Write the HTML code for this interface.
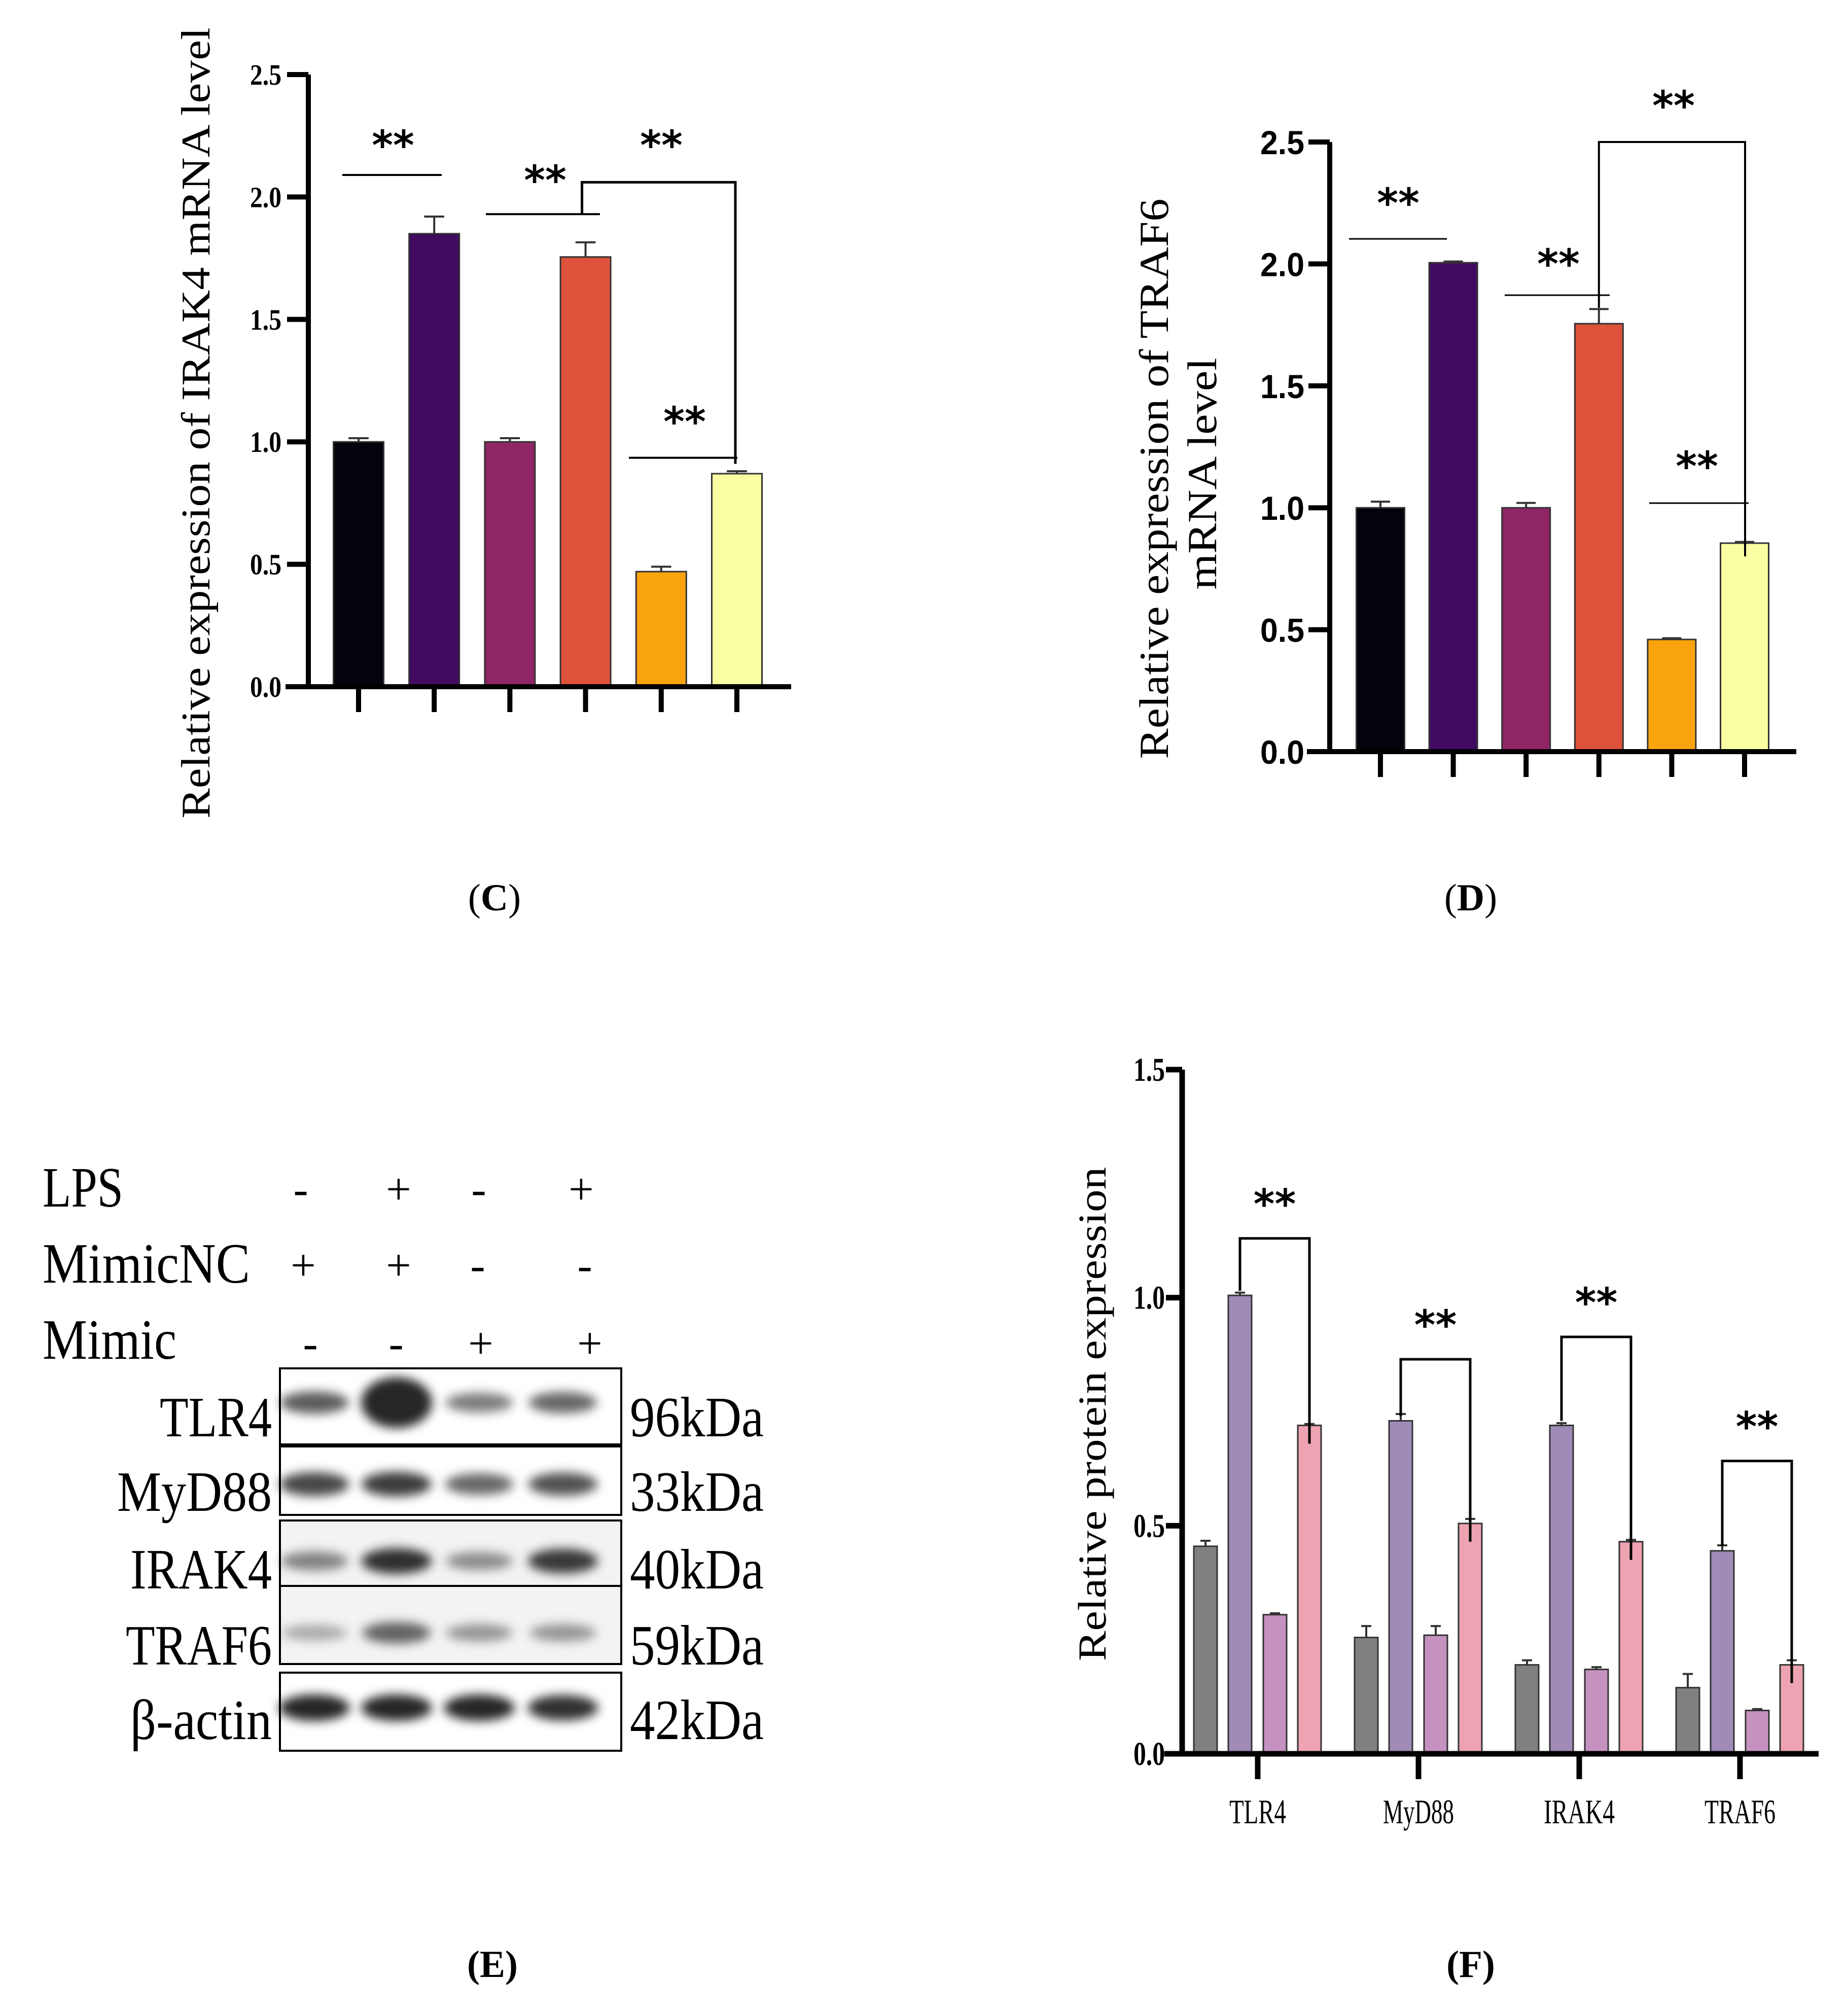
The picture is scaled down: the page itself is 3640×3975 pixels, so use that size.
<!DOCTYPE html>
<html><head><meta charset="utf-8">
<style>
html,body{margin:0;padding:0;background:#fff;}
svg{display:block;}
text{font-family:"Liberation Serif",serif;fill:#000;}
</style></head>
<body>
<svg id="fig" width="3640" height="3975" viewBox="0 0 3640 3975" xmlns="http://www.w3.org/2000/svg">
<defs>
<filter id="blur" x="-30%" y="-100%" width="160%" height="300%"><feGaussianBlur stdDeviation="10"/></filter>
</defs>
<g id="chartC"></g>
<g id="chartD"></g>
<g id="blotE"></g>
<g id="chartF"></g>
<text x="975" y="1795" font-size="75" text-anchor="middle">(<tspan font-weight="bold">C</tspan>)</text>
<text x="2900" y="1795" font-size="75" text-anchor="middle">(<tspan font-weight="bold">D</tspan>)</text>
<text x="971" y="3898" font-size="75" text-anchor="middle" font-weight="bold">(E)</text>
<text x="2900" y="3898" font-size="75" text-anchor="middle" font-weight="bold">(F)</text>
</svg>
<script>
// ---- Chart C data ----
const cValues = [1.0, 1.85, 1.0, 1.755, 0.47, 0.87];
const cErrors = [0.015, 0.07, 0.015, 0.06, 0.02, 0.01];
const cTicks = ["0.0","0.5","1.0","1.5","2.0","2.5"];
// ---- Chart D data ----
const dValues = [1.0, 2.005, 1.0, 1.755, 0.46, 0.855];
const dErrors = [0.025, 0.005, 0.02, 0.06, 0.005, 0.005];
const dTicks = ["0.0","0.5","1.0","1.5","2.0","2.5"];
// ---- Chart F data ----
const fCategories = ["TLR4","MyD88","IRAK4","TRAF6"];
const fSeries1 = [0.455, 0.255, 0.195, 0.145];
const fSeries2 = [1.005, 0.73, 0.72, 0.445];
const fSeries3 = [0.305, 0.26, 0.185, 0.095];
const fSeries4 = [0.72, 0.505, 0.465, 0.195];
const fErr1 = [0.012, 0.025, 0.01, 0.03];
const fErr2 = [0.006, 0.015, 0.005, 0.012];
const fErr3 = [0.003, 0.02, 0.005, 0.003];
const fErr4 = [0.003, 0.01, 0.004, 0.01];
const fTicks = ["0.0","0.5","1.0","1.5"];

const NS="http://www.w3.org/2000/svg";
function mk(parent,tag,attrs,txt){const e=document.createElementNS(NS,tag);for(const k in attrs)e.setAttribute(k,attrs[k]);if(txt!==undefined)e.textContent=txt;parent.appendChild(e);return e;}

const colors6=["#04020a","#420a61","#902565","#de523c","#f9a40f","#fafea3"];

function drawChart6(g,opt,values,errors,ticks){
  const y=v=>opt.y0-(v/opt.ymax)*(opt.y0-opt.yTop);
  const x=i=>opt.x0c+i*opt.step;
  values.forEach((v,i)=>{
    const r=mk(g,'rect',{x:x(i)-opt.bw/2,y:y(v),width:opt.bw,height:opt.y0-y(v),fill:colors6[i],stroke:'#333',"stroke-width":3});
    
    
    const e=mk(g,'path',{d:`M${x(i)} ${y(v)} V${y(v+errors[i])} M${x(i)-opt.bw*0.2} ${y(v+errors[i])} H${x(i)+opt.bw*0.2}`,stroke:'#333',"stroke-width":4,fill:'none'});
    
    
    const t=mk(g,'line',{x1:x(i),x2:x(i),y1:opt.y0,y2:opt.y0+opt.xtick,stroke:'#000',"stroke-width":opt.aw});
    
    
  });
  const ax=mk(g,'path',{d:`M${opt.ax} ${opt.yTop} V${opt.y0} M${opt.ax-opt.aw/2-40} ${opt.y0} H${opt.xEnd}`,stroke:'#000',"stroke-width":opt.aw,fill:'none'});
  
  
  ticks.forEach((tk,i)=>{
    const v=parseFloat(tk);
    mk(g,'line',{x1:opt.ax-opt.ytick,x2:opt.ax,y1:y(v),y2:y(v),stroke:'#000',"stroke-width":opt.aw});
    const t=mk(g,'text',{x:opt.labR,y:y(v)+opt.labDy,"text-anchor":"end","font-size":opt.labFs,"font-weight":"bold",textLength:opt.labW,lengthAdjust:"spacingAndGlyphs",style:opt.labFont},tk);
    
    
  });
  return {x,y};
}

function stars(g,cx,cy,fs){
  const t=mk(g,'text',{x:cx,y:cy+fs*0.38,"text-anchor":"middle","font-size":fs,"font-weight":"bold",style:'font-family:"DejaVu Sans",sans-serif'},"**");
  
  
}
function line(g,d,w){const p=mk(g,'path',{d:d,stroke:'#000',"stroke-width":w||4,fill:'none'});return p;}

// ---- Chart C ----
(function(){
  const g=document.getElementById('chartC');
  const s=drawChart6(g,{y0:1354,yTop:147,ymax:2.5,x0c:707,step:149.2,bw:99,ax:608,xEnd:1560,aw:10,ytick:42,xtick:50,labR:555,labDy:20,labFs:58,labW:62,labFont:'font-family:"Liberation Serif",serif'},cValues,cErrors,cTicks);
  const {x,y}=s;
  line(g,`M675 ${y(2.09)} H871`);
  stars(g,775,284,80);
  line(g,`M958 ${y(1.93)} H1183`);
  stars(g,1075,353,80);
  line(g,`M${x(3)-7} ${y(1.93)} V${y(2.06)} H${x(5)-3} V${y(0.91)}`,5);
  stars(g,1304,284,80);
  line(g,`M1240 ${y(0.935)} H1454`);
  stars(g,1350,829,80);
  const t=mk(g,'text',{x:0,y:0,"font-size":80,"text-anchor":"middle",transform:"translate(413,834) rotate(-90)",textLength:1560,lengthAdjust:"spacingAndGlyphs"},"Relative expression of IRAK4 mRNA level");
  
  
})();

// ---- Chart D ----
(function(){
  const g=document.getElementById('chartD');
  const s=drawChart6(g,{y0:1482,yTop:280,ymax:2.5,x0c:2722,step:143.6,bw:95,ax:2622,xEnd:3542,aw:10,ytick:42,xtick:50,labR:2572,labDy:24,labFs:66,labW:87,labFont:'font-family:"Liberation Sans",sans-serif'},dValues,dErrors,dTicks);
  const {x,y}=s;
  line(g,`M2660 471 H2853`,3);
  stars(g,2757,398,80);
  line(g,`M2967 582 H3174`,3);
  stars(g,3073,518,80);
  line(g,`M${x(3)} ${y(1.82)} V${y(2.5)} H3441 V1097`,4);
  stars(g,3300,206,80);
  line(g,`M3252 992 H3448`,3);
  stars(g,3346,917,80);
  const t1=mk(g,'text',{x:0,y:0,"font-size":82,"text-anchor":"middle",transform:"translate(2303,944) rotate(-90)",textLength:1105,lengthAdjust:"spacingAndGlyphs"},"Relative expression of TRAF6");
  
  
  const t2=mk(g,'text',{x:0,y:0,"font-size":82,"text-anchor":"middle",transform:"translate(2398,934) rotate(-90)",textLength:457,lengthAdjust:"spacingAndGlyphs"},"mRNA level");
  
  
})();

// ---- Chart F ----
(function(){
  const g=document.getElementById('chartF');
  const y0=3458,yTop=2109,ymax=1.5,ax=2331,xEnd=3586,aw=11;
  const y=v=>y0-(v/ymax)*(y0-yTop);
  const gx=i=>2480+i*317;
  const offs=[-103,-35,34,102], bw=46;
  const fcols=["#808080","#9f8ab8","#c592c0","#eda3b1"];
  const series=[fSeries1,fSeries2,fSeries3,fSeries4];
  const errs=[fErr1,fErr2,fErr3,fErr4];
  fCategories.forEach((c,i)=>{
    series.forEach((sr,k)=>{
      const cx=gx(i)+offs[k], v=sr[i], e=errs[k][i];
      const r=mk(g,'rect',{x:cx-bw/2,y:y(v),width:bw,height:y0-y(v),fill:fcols[k],stroke:'#333',"stroke-width":3});
      
      
      const eb=mk(g,'path',{d:`M${cx} ${y(v)} V${y(v+e)} M${cx-10} ${y(v+e)} H${cx+10}`,stroke:'#333',"stroke-width":4,fill:'none'});
      
      
    });
    mk(g,'line',{x1:gx(i),x2:gx(i),y1:y0,y2:y0+50,stroke:'#000',"stroke-width":aw});
    const t=mk(g,'text',{x:gx(i),y:3595,"text-anchor":"middle","font-size":68,textLength:c.length*28,lengthAdjust:"spacingAndGlyphs"},c);
    
    
  });
  const axp=mk(g,'path',{d:`M${ax} ${yTop} V${y0} M${ax-aw/2-30} ${y0} H${xEnd}`,stroke:'#000',"stroke-width":aw,fill:'none'});
  
  
  fTicks.forEach(tk=>{
    const v=parseFloat(tk);
    mk(g,'line',{x1:ax-32,x2:ax,y1:y(v),y2:y(v),stroke:'#000',"stroke-width":aw});
    const t=mk(g,'text',{x:2297,y:y(v)+22,"text-anchor":"end","font-size":66,"font-weight":"bold",textLength:62,lengthAdjust:"spacingAndGlyphs"},tk);
    
    
  });
  const brLevels=[1.13,0.865,0.914,0.642];
  fCategories.forEach((c,i)=>{
    const x1=gx(i)+offs[1], x2=gx(i)+offs[3];
    line(g,`M${x1} ${y(series[1][i]+0.01)} V${y(brLevels[i])} H${x2} V${y(series[3][i]-0.04)}`,5);
    stars(g,(x1+x2)/2,y(brLevels[i])-70,80);
  });
  const t=mk(g,'text',{x:0,y:0,"font-size":78,"text-anchor":"middle",transform:"translate(2180,2788) rotate(-90)",textLength:974,lengthAdjust:"spacingAndGlyphs"},"Relative protein expression");
  
  
})();

// ---- Blot E ----
const eRowLabels=["LPS","MimicNC","Mimic"];
const eSigns=[["-","+","-","+"],["+","+","-","-"],["-","-","+","+"]];
const eProteins=["TLR4","MyD88","IRAK4","TRAF6","β-actin"];
const eKda=["96kDa","33kDa","40kDa","59kDa","42kDa"];
const eBand=[[0.75,1.0,0.6,0.7],[0.85,0.9,0.7,0.8],[0.55,0.95,0.5,0.9],[0.35,0.7,0.45,0.45],[1.0,1.0,1.0,0.95]];
(function(){
  const g=document.getElementById('blotE');
  const rowBase=[2379,2529,2679], rowW=[159,409,264];
  const signY=[2346,2496,2650];
  const signX=[[593,786,944,1146],[598,786,942,1153],[612,781,948,1163]];
  eRowLabels.forEach((l,r)=>{
    const t=mk(g,'text',{x:84,y:rowBase[r],"font-size":112,textLength:rowW[r],lengthAdjust:"spacingAndGlyphs"},l);
    
    
    eSigns[r].forEach((s,c)=>{
      const st=mk(g,'text',{x:signX[r][c],y:signY[r]+28,"font-size":88,"text-anchor":"middle"},s);
      
      
    });
  });
  const boxes=[[2698,2848],[2852,2987],[2998,3127],[3127,3281],[3298,3452]];
  const base=[2832,2979,3132,3282,3429];
  const labW=[221,305,279,288,279];
  const lanes=[620,782,945,1110];
  const bandY=[0.45,0.55,0.62,0.6,0.45];
  boxes.forEach((b,i)=>{
    const bx=mk(g,'rect',{x:552,y:b[0],width:673,height:b[1]-b[0],fill:i===2||i===3?'#f3f3f3':'#fff',stroke:'#000',"stroke-width":4});
    
    
    lanes.forEach((lx,c)=>{
      const a=eBand[i][c];
      const cy=b[0]+(b[1]-b[0])*bandY[i];
      const el=mk(g,'ellipse',{cx:lx,cy:cy,rx:62+a*8,ry:10+a*(i===0&&c===1?40:16),fill:'#000',"fill-opacity":Math.min(1,a*0.85),filter:'url(#blur)'});
      
      
    });
    const tl=mk(g,'text',{x:536,y:base[i],"font-size":112,"text-anchor":"end",textLength:labW[i],lengthAdjust:"spacingAndGlyphs"},eProteins[i]);
    
    
    const tk=mk(g,'text',{x:1242,y:base[i],"font-size":112,textLength:264,lengthAdjust:"spacingAndGlyphs"},eKda[i]);
    
    
  });
})();
</script>
</body></html>
